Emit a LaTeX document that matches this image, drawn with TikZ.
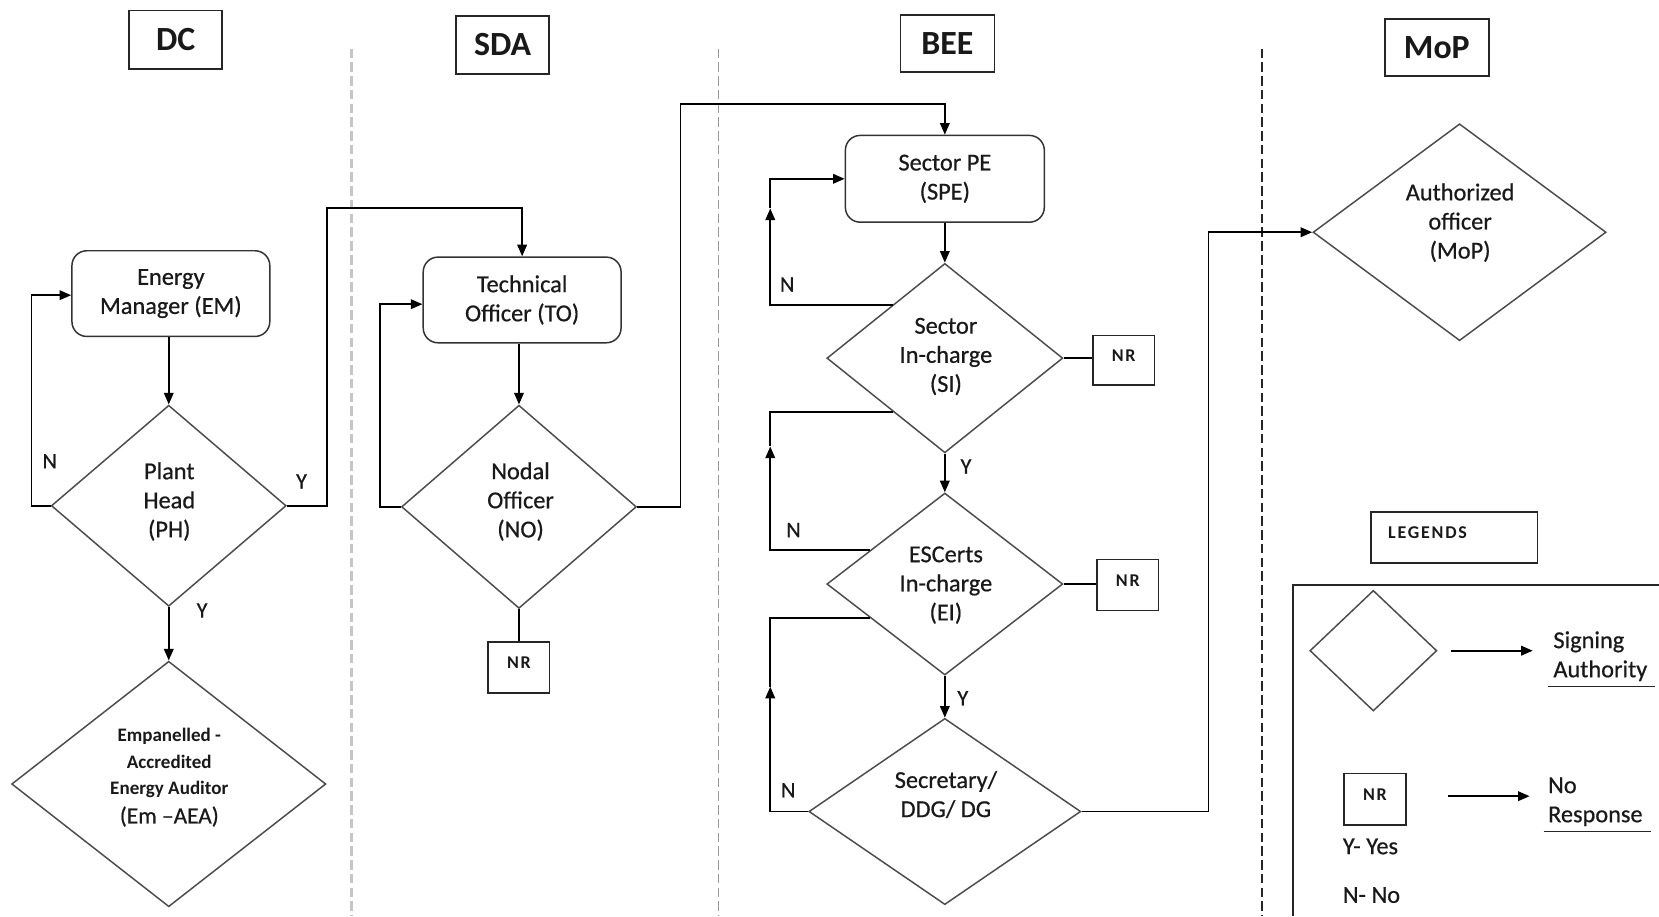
\documentclass[tikz,border=0pt]{standalone}
\usepackage{fontspec}
\setmainfont{Carlito}
\usetikzlibrary{shapes.geometric,arrows.meta,calc}

\begin{document}
\begin{tikzpicture}[x=1pt,y=-1pt,
  every node/.style={text=black!90},
  body/.style={font=\fontsize{23}{27.5}\selectfont\addfontfeature{FakeBold=0.6}, align=center, inner sep=0pt},
  hdr/.style={draw=black!85, line width=1.6pt, minimum width=88pt, minimum height=55pt,
    inner sep=0pt, font=\fontsize{32}{36}\selectfont\bfseries},
  rbox/.style={draw=black!80, line width=1.4pt, rounded corners=14pt,
    minimum width=187pt, minimum height=81pt, inner sep=0pt},
  dia/.style={draw=black!70, line width=1.4pt, diamond, inner sep=0pt},
  nrbox/.style={draw=black!85, line width=1.5pt, minimum width=58pt, minimum height=48pt,
    inner sep=0pt, font=\fontsize{17}{19}\selectfont\bfseries\addfontfeature{LetterSpace=10},
    text height=11pt, text depth=9pt},
  conn/.style={line width=1.8pt, draw=black},
  arr/.style={conn, -{Triangle[length=11pt,width=9pt]}},
  yn/.style={font=\fontsize{21}{24}\selectfont\addfontfeature{FakeBold=0.6}, inner sep=0pt},
  lane/.style={dash pattern=on 9pt off 4pt},
  uline/.style={line width=1.5pt, draw=black!85},
]
\useasboundingbox (0,0) rectangle (1568,866);

% swim-lane separators
\draw[lane, gray!45, line width=2.6pt] (332,46) -- (332,866);
\draw[lane, gray!80, line width=1.5pt] (679,46) -- (679,866);
\draw[lane, black!85, line width=1.7pt] (1193,46) -- (1193,866);

% lane headers
\node[hdr] (dc) at (166,37.5) {DC};
\node[hdr] (sda) at (475,42.5) {SDA};
\node[hdr, minimum width=89pt, minimum height=54pt] (bee) at (895.5,41) {BEE};
\node[hdr, minimum width=98pt, minimum height=54pt] (mop) at (1358,45) {MoP};

% ---- DC ----
\node[rbox, body] (em) at (161.5,277.5) {Energy\\Manager (EM)};
\node[dia, minimum width=222pt, minimum height=190pt] (ph) at (159.5,478) {};
\node[body] (ph-t) at (160,474) {Plant\\Head\\(PH)};
\node[dia, minimum width=297pt, minimum height=232pt] (ea) at (159.5,741) {};
\node[align=center, inner sep=0pt, font=\fontsize{18}{25}\selectfont\bfseries] (ea-t) at (160,735)
  {Empanelled -\\Accredited\\Energy Auditor\\[2pt]{\fontsize{22}{25}\selectfont\mdseries\addfontfeature{FakeBold=0.6} (Em –AEA)}};

% ---- SDA ----
\node[rbox, body] (to) at (493.5,283.5) {Technical\\Officer (TO)};
\node[dia, minimum width=222pt, minimum height=192pt] (no) at (490.5,479) {};
\node[body] (no-t) at (492,474) {Nodal\\Officer\\(NO)};
\node[nrbox] (nr1) at (490.5,631) {NR};

% ---- BEE ----
\node[rbox, body, minimum width=188pt, minimum height=82pt] (spe) at (893,169) {Sector PE\\(SPE)};
\node[dia, minimum width=223pt, minimum height=179pt] (si) at (893,338.5) {};
\node[body] (si-t) at (894,337) {Sector\\In-charge\\(SI)};
\node[nrbox, minimum height=47pt] (nr2) at (1062,340.5) {NR};
\node[dia, minimum width=223pt, minimum height=172pt] (ei) at (893,552) {};
\node[body] (ei-t) at (894,553) {ESCerts\\In-charge\\(EI)};
\node[nrbox] (nr3) at (1066,553) {NR};
\node[dia, minimum width=257pt, minimum height=176pt] (sec) at (893,767) {};
\node[body] (sec-t) at (894,751) {Secretary/\\DDG/ DG};

% ---- MoP ----
\node[dia, minimum width=277pt, minimum height=205pt] (auth) at (1379.5,219.5) {};
\node[body] (auth-t) at (1380,210.5) {Authorized\\officer\\(MoP)};

% ---- legend ----
\node[draw=black!85, line width=1.5pt, minimum width=157pt, minimum height=48pt,
  inner xsep=16pt, inner ysep=0pt, text width=125pt, align=left,
  font=\fontsize{17}{19}\selectfont\bfseries\addfontfeature{LetterSpace=10},
  text height=11pt, text depth=9pt] (leg) at (1374.5,508) {LEGENDS};
\draw[uline] (1568,553) -- (1222,553) -- (1222,866);
\node[dia, minimum width=120pt, minimum height=114pt] (ldia) at (1298,615) {};
\node[body, align=left, text width=91pt, inner xsep=5pt, inner ysep=5pt, anchor=south west]
  (lsign) at (1463,649) {Signing\\Authority};
\draw[uline] (lsign.south west) -- (lsign.south east);
\draw[arr] ([xshift=13pt]ldia.east) -- ([xshift=90pt]ldia.east);
\node[nrbox, minimum width=59pt, minimum height=49pt] (lnr) at (1299.5,755.5) {NR};
\node[body, align=left, text width=93pt, inner xsep=4pt, inner ysep=5pt, anchor=south west]
  (lresp) at (1459,786) {No\\Response};
\draw[uline] (lresp.south west) -- (lresp.south east);
\draw[arr] ($(lnr.east)+(39,-3)$) -- ($(lnr.east)+(116,-3)$);
\node[body, anchor=west] (lyes) at (1269,800) {Y- Yes};
\node[body, anchor=west] (lno) at (1269,846) {N- No};

% ---- connectors: DC ----
\draw[arr] (ph.north |- em.south) -- (ph.north);
\draw[arr] (ph.west) -- ++(-18,0) |- ([yshift=-1.5pt]em.west);
\draw[arr] (ph.east) -- ++(38,0) |- ($(to.north)+(0,-46)$) -- (to.north);
\draw[arr] (ph.south) -- (ea.north);

% ---- connectors: SDA ----
\draw[arr] (no.north |- to.south) -- (no.north);
\draw[arr] (no.west) -- ++(-20,0) |- ($(to.west)+(0,4)$);
\draw[conn] (no.south) -- (nr1.north);
\draw[arr] (no.east) -- ++(41,0) |- ($(spe.north)+(0,-29)$) -- (spe.north);

% ---- connectors: BEE ----
\draw[arr] (spe.south) -- (si.north);
\coordinate (k1) at (728,197);
\draw[arr] ($(si.west)!0.56!(si.north)$) -| (k1);
\draw[arr] (k1) |- (spe.west);
\draw[conn] (si.east) -- (si.east -| nr2.west);
\draw[arr] (si.south) -- (ei.north);
\coordinate (k2) at (728,422);
\draw[arr] ($(ei.west)!0.37!(ei.north)$) -| (k2);
\draw[conn] (k2) |- ($(si.west)!0.567!(si.south)$);
\draw[conn] (ei.east) -- (ei.east -| nr3.west);
\draw[arr] (ei.south) -- (sec.north);
\coordinate (k3) at (728,649);
\draw[arr] (sec.west) -| (k3);
\draw[conn] (k3) |- ($(ei.west)!0.37!(ei.south)$);
\draw[arr] (sec.east) -- ++(120,0) |- (auth.west);

% ---- branch labels ----
\node[yn] (n1) at (47,436) {N};
\node[yn] (y1) at (285,455) {Y};
\node[yn] (y2) at (191,577) {Y};
\node[yn] (n2) at (744,269) {N};
\node[yn] (y3) at (913,441) {Y};
\node[yn] (n3) at (750,501) {N};
\node[yn] (y4) at (910,660) {Y};
\node[yn] (n4) at (745,747) {N};
\end{tikzpicture}
\end{document}
